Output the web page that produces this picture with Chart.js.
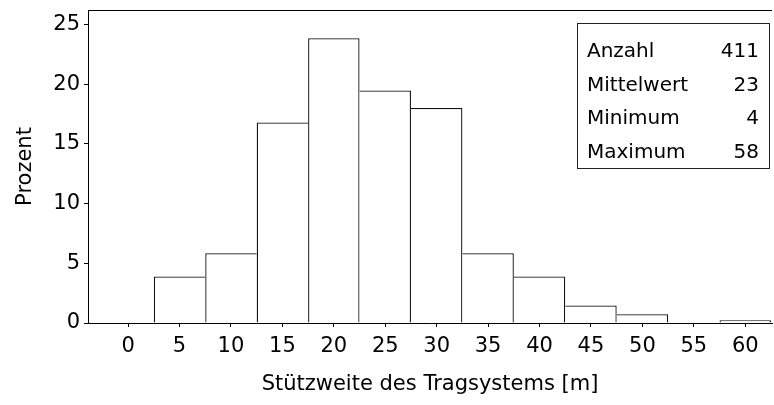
<!DOCTYPE html>
<html>
<head>
<meta charset="utf-8">
<script src="https://cdn.jsdelivr.net/npm/chart.js@4/dist/chart.umd.min.js"></script>
<style>
  html, body { margin: 0; padding: 0; background: #fff; }
  #wrap { width: 774px; height: 405px; }
</style>
</head>
<body>
<div id="wrap"><canvas id="c" width="774" height="405"></canvas></div>
<script>
// Histogram of span lengths: bin centres (m) and share of bridges per bin (%)
const binCenters = [0, 5, 10, 15, 20, 25, 30, 35, 40, 45, 50, 55, 60];
const percentValues = [0, 3.89, 5.84, 16.79, 23.84, 19.46, 18.00, 5.84, 3.89, 1.46, 0.73, 0, 0.24];
const xTickValues = [0, 5, 10, 15, 20, 25, 30, 35, 40, 45, 50, 55, 60];
const yTickValues = [0, 5, 10, 15, 20, 25];
const statLabels = ['Anzahl', 'Mittelwert', 'Minimum', 'Maximum'];
const statValues = ['411', '23', '4', '58'];

const FONT = 'DejaVu Sans';
const INK = '#000';
const AXIS_SIZE = 21;
const BOX_SIZE = 20;

// Only draw the shared edge of neighbouring bars once (by the taller bar)
function edgeWidths(ctx) {
  const i = ctx.dataIndex;
  const v = percentValues[i];
  const prev = i > 0 ? percentValues[i - 1] : 0;
  const next = i < percentValues.length - 1 ? percentValues[i + 1] : 0;
  return {
    top: 1.3,
    left: prev <= v ? 1.3 : 0,
    right: next < v ? 1.3 : 0,
    bottom: 0
  };
}

// Frame line along the top of the plot and the statistics box
const framePlugin = {
  id: 'frame',
  afterDraw(chart) {
    const { ctx, chartArea } = chart;
    ctx.save();
    ctx.strokeStyle = INK;
    ctx.lineWidth = 1;
    ctx.beginPath();
    ctx.moveTo(chartArea.left, Math.round(chartArea.top) + 0.5);
    ctx.lineTo(chartArea.right, Math.round(chartArea.top) + 0.5);
    ctx.stroke();

    const boxRight = chartArea.right - 3;
    const boxLeft = boxRight - 192;
    const boxTop = chartArea.top + 13;
    const boxH = 145;
    ctx.strokeStyle = '#222';
    ctx.strokeRect(Math.round(boxLeft) + 0.5, Math.round(boxTop) + 0.5, 192, boxH);

    ctx.fillStyle = INK;
    ctx.font = BOX_SIZE + 'px "' + FONT + '"';
    ctx.textBaseline = 'alphabetic';
    for (let i = 0; i < statLabels.length; i++) {
      const y = boxTop + 34 + i * 33.7;
      ctx.textAlign = 'left';
      ctx.fillText(statLabels[i], boxLeft + 10, y);
      ctx.textAlign = 'right';
      ctx.fillText(statValues[i], boxRight - 10, y);
    }
    ctx.restore();
  }
};

new Chart(document.getElementById('c'), {
  type: 'bar',
  data: {
    datasets: [{
      data: binCenters.map((x, i) => ({ x: x, y: percentValues[i] })),
      backgroundColor: '#fff',
      borderColor: '#111',
      borderWidth: edgeWidths,
      borderSkipped: 'start',
      inflateAmount: 0,
      barPercentage: 1,
      categoryPercentage: 1
    }]
  },
  options: {
    responsive: false,
    animation: false,
    devicePixelRatio: 1,
    layout: { padding: { top: 10, right: 2, left: 0, bottom: 0 } },
    plugins: { legend: { display: false }, tooltip: { enabled: false } },
    scales: {
      x: {
        type: 'linear',
        offset: false,
        min: -3.9,
        max: 62.6,
        afterBuildTicks: s => { s.ticks = xTickValues.map(v => ({ value: v })); },
        afterFit: s => { s.height = 82; s.paddingLeft = 0; s.paddingRight = 0; },
        grid: { display: true, offset: false, drawOnChartArea: false, drawTicks: true, tickLength: 4, tickColor: INK, lineWidth: 1 },
        border: { display: true, color: INK, width: 1 },
        ticks: { color: INK, padding: 7, font: { family: FONT, size: AXIS_SIZE }, maxRotation: 0, autoSkip: false },
        title: { display: true, text: 'Stützweite des Tragsystems [m]', color: INK, font: { family: FONT, size: AXIS_SIZE }, padding: { top: 0, bottom: 8 } }
      },
      y: {
        min: 0,
        max: 26.2,
        afterBuildTicks: s => { s.ticks = yTickValues.map(v => ({ value: v })); },
        afterFit: s => { s.width = 88; s.paddingTop = 0; s.paddingBottom = 0; },
        grid: { display: true, drawOnChartArea: false, drawTicks: true, tickLength: 4, tickColor: INK, lineWidth: 1 },
        border: { display: true, color: INK, width: 1 },
        ticks: { color: INK, padding: 4, font: { family: FONT, size: AXIS_SIZE } },
        title: { display: true, text: 'Prozent', color: INK, font: { family: FONT, size: AXIS_SIZE }, padding: { top: 13, bottom: 0 } }
      }
    }
  },
  plugins: [framePlugin]
});
</script>
</body>
</html>
